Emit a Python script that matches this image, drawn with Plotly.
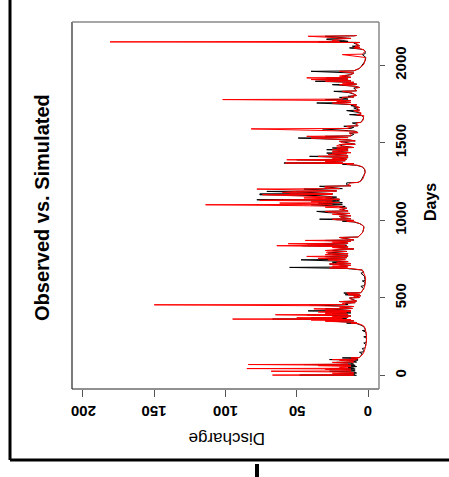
import plotly.graph_objects as go

# Observed discharge (day, value)
observed = [
    (1,8),(3,48),(5,12),(10,9),(14,20),(16,8),(22,10),(28,27),(30,9),(36,12),(40,18),(42,9),(45,27),(47,10),
    (52,14),(58,8),(64,20),(66,9),(71,45),(73,10),(80,12),(85,22),(87,8),(92,10),(98,15),(100,7),(103,27),
    (105,7),(110,9),(114,18),(116,6),(125,5),(140,4),(150,6),(152,3.5),(160,3),(175,4),(177,2.5),(180,2),
    (200,1.5),(210,3),(212,1.3),(220,1.2),(240,1.0),(250,3),(252,1.1),(260,1.2),(280,1.5),(290,4),(292,1.8),
    (300,2),(315,3),(325,5),(335,8),
    (338,15),(342,8),(350,25),(353,10),(358,30),(361,12),(364,67),(366,15),(372,40),(375,14),(380,20),(384,12),
    (392,43),(394,14),(400,25),(404,12),(410,30),(413,12),(417,42),(419,12),(425,20),(430,30),(432,11),(440,18),
    (445,10),(450,28),(456,41),(458,14),(465,16),(470,9),(477,20),(480,8),(490,10),(500,13),(503,6),(510,8),
    (515,5),(521,16),(523,6),(532,17),(534,5),(545,4),(560,3),(575,5),(577,2.6),(580,2.5),(600,2),(610,4),
    (612,2),(620,2),(640,2.5),(660,5),(665,3),(680,4),
    (690,15),(697,55),(700,15),(705,20),(710,12),(719,27),(722,12),(730,25),(735,14),(746,47),(749,16),(755,30),
    (760,15),(768,30),(771,14),(780,25),(785,14),(790,28),(796,20),(800,15),(806,25),(813,20),(816,10),(825,22),
    (830,14),(837,46),(840,15),(850,43),(853,14),(860,20),(865,12),(871,30),(874,10),(880,14),(890,20),(893,7),
    (900,6),(910,5),(920,4),(930,3.5),(940,3),(950,3),(960,3),(970,4),(980,6),(990,10),
    (995,18),(1000,10),(1004,20),(1008,34),(1011,12),(1018,18),(1026,20),(1030,12),(1040,22),(1045,13),(1050,28),
    (1058,36),(1061,14),(1070,18),(1079,15),(1085,20),(1090,16),(1095,30),(1101,40),(1104,18),(1112,35),(1115,18),
    (1120,30),(1125,20),(1129,22),(1133,78),(1136,20),(1145,30),(1150,22),(1160,35),(1166,76),(1168,25),(1170,76),
    (1173,25),(1180,40),(1187,71),(1190,22),(1195,30),(1202,45),(1205,18),(1212,25),(1220,34),(1223,12),(1230,15),
    (1242,15),(1245,7),(1255,5),(1270,4),(1290,3),(1310,2),(1330,2.5),(1345,4),(1355,8),
    (1362,18),(1366,10),(1370,59),(1373,18),(1380,28),(1385,16),(1391,50),(1394,15),(1400,20),(1405,14),(1413,41),
    (1416,14),(1425,24),(1430,15),(1434,29),(1437,12),(1445,22),(1450,14),(1456,29),(1460,14),(1467,25),(1470,10),
    (1480,18),(1488,20),(1491,9),(1500,15),(1510,20),(1513,9),(1520,14),(1531,49),(1534,14),(1542,30),(1545,12),
    (1555,10),(1563,13),(1566,7),(1575,9),(1590,32),(1593,12),(1600,10),(1607,17),(1610,7),(1620,8),(1628,11),
    (1632,5),(1645,4),(1660,3),(1675,4),
    (1682,13),(1685,5),(1695,6),(1708,15),(1711,6),(1718,8),(1725,10),(1728,6),(1740,12),(1745,8),(1757,36),
    (1760,12),(1768,20),(1772,12),(1779,30),(1782,14),(1793,20),(1796,10),(1800,14),(1805,8),(1815,10),(1825,14),
    (1832,24),(1835,8),(1845,9),(1854,10),(1857,6),(1865,9),(1875,25),(1878,8),(1885,15),(1890,10),(1897,37),
    (1900,12),(1908,35),(1911,14),(1919,29),(1922,12),(1930,18),(1940,12),(1950,10),(1961,40),(1964,10),(1972,8),
    (1980,6),(1990,5),
    (2000,4),(2015,3),(2030,2),(2050,1.5),(2069,4),(2075,2),(2090,2),(2100,3),
    (2105,6),(2112,13),(2115,6),(2123,11),(2126,6),(2135,8),(2144,10),(2147,6),(2151,35),(2154,14),(2160,18),
    (2166,29),(2170,29),(2173,12),(2180,20),(2187,30),(2190,10),(2192,8),
]

# Simulated discharge (day, value)
simulated = [
    (1,10),(3,67),(5,14),(10,10),(15,25),(17,10),(22,12),(28,68),(30,12),(36,15),(40,30),(42,12),(45,85),(47,14),
    (52,20),(58,12),(64,35),(66,12),(71,84),(73,14),(80,15),(85,25),(87,10),(92,12),(98,20),(100,9),(103,25),
    (105,8),(110,7),(114,12),(116,6),(125,5),(140,3.5),(160,2.5),(180,1.8),(200,1.4),(220,1.1),(240,1.0),
    (260,1.1),(280,1.4),(300,1.8),(315,2.5),(325,4),(335,7),
    (338,12),(342,8),(350,30),(353,10),(358,40),(361,12),(364,95),(366,18),(372,50),(375,14),(380,25),(384,12),
    (392,65),(394,14),(400,30),(404,15),(410,35),(413,12),(417,30),(419,12),(425,25),(430,38),(432,11),(440,20),
    (445,10),(450,35),(456,150),(458,16),(465,18),(470,9),(477,20),(480,8),(490,12),(500,13),(503,6),(510,10),
    (515,5),(521,14),(523,6),(532,15),(534,5),(545,4),(560,3),(580,2.2),(600,1.8),(620,1.7),(640,2),(660,3),
    (680,4),
    (690,12),(693,27),(697,20),(700,14),(705,25),(710,12),(719,27),(722,12),(730,22),(735,14),(746,28),(749,16),
    (755,35),(760,15),(768,43),(771,14),(780,30),(785,14),(790,29),(796,29),(800,15),(806,30),(813,20),(816,10),
    (825,25),(830,14),(837,64),(840,16),(850,56),(853,14),(860,25),(865,12),(871,44),(874,10),(880,15),(890,20),
    (893,7),(900,6),(910,5),(920,4),(930,3.5),(940,3),(950,3),(960,3),(970,4),(980,6),(990,9),
    (995,15),(1000,10),(1004,22),(1008,25),(1011,12),(1018,18),(1026,20),(1030,12),(1040,25),(1045,13),(1050,22),
    (1058,30),(1061,14),(1070,20),(1079,15),(1085,30),(1090,18),(1095,45),(1101,114),(1104,25),(1112,62),(1115,20),
    (1120,40),(1125,25),(1129,76),(1133,60),(1136,20),(1145,45),(1150,25),(1160,50),(1166,74),(1168,25),(1170,55),
    (1173,25),(1180,60),(1187,50),(1190,22),(1195,40),(1202,78),(1205,20),(1212,30),(1220,30),(1223,12),(1230,14),
    (1242,12),(1245,7),(1255,5),(1270,3.5),(1290,2.5),(1310,2),(1330,2.3),(1345,4),(1355,7),
    (1362,15),(1366,10),(1370,58),(1373,18),(1380,30),(1385,16),(1391,57),(1394,15),(1400,25),(1405,14),(1413,35),
    (1416,14),(1425,28),(1430,15),(1434,25),(1437,12),(1445,25),(1450,14),(1456,25),(1460,14),(1467,22),(1470,10),
    (1480,22),(1488,20),(1491,9),(1500,18),(1510,20),(1513,9),(1520,15),(1531,40),(1534,14),(1542,43),(1545,12),
    (1555,12),(1563,13),(1566,7),(1575,10),(1590,82),(1593,14),(1600,12),(1607,15),(1610,7),(1620,8),(1628,8),
    (1632,5),(1645,3.5),(1660,3),(1675,3),
    (1682,8),(1685,5),(1695,5),(1708,10),(1711,6),(1718,7),(1725,8),(1728,6),(1740,10),(1745,8),(1757,25),
    (1760,12),(1768,22),(1772,12),(1779,102),(1782,18),(1793,18),(1796,10),(1800,12),(1805,8),(1815,10),(1825,12),
    (1832,18),(1835,8),(1845,9),(1854,8),(1857,6),(1865,10),(1875,20),(1878,8),(1885,18),(1890,10),(1897,30),
    (1900,12),(1908,40),(1911,14),(1919,43),(1922,12),(1930,20),(1940,12),(1950,10),(1961,20),(1964,10),(1972,8),
    (1980,6),(1990,5),
    (2000,3.5),(2015,2.5),(2030,2),(2050,1.8),(2069,18),(2072,4),(2090,2),(2100,3),
    (2105,5),(2112,10),(2115,6),(2123,9),(2126,6),(2135,8),(2144,9),(2147,6),(2151,181),(2154,20),(2160,25),
    (2166,22),(2170,20),(2173,12),(2180,30),(2187,42),(2190,10),(2192,8),
]

obs_days = [d for d, v in observed]
obs_vals = [v for d, v in observed]
sim_days = [d for d, v in simulated]
sim_vals = [v for d, v in simulated]

discharge_ticks = [0, 50, 100, 150, 200]
day_ticks = [0, 500, 1000, 1500, 2000]

FONT = "Liberation Sans, Arial, sans-serif"

fig = go.Figure()
fig.add_trace(go.Scatter(x=obs_vals, y=obs_days, mode="lines",
                         line=dict(color="black", width=1), showlegend=False))
fig.add_trace(go.Scatter(x=sim_vals, y=sim_days, mode="lines",
                         line=dict(color="red", width=1), showlegend=False))

# plot area in pixels: x 72..379, y 22..389
L, R, T, B = 72, 379, 22, 389
W, H = 449, 477
def px(x):
    return (x - L) / (R - L)
def py(y):
    return (B - y) / (B - T)

annotations = [
    dict(text="Observed vs. Simulated", xref="paper", yref="paper", x=px(42), y=py(208),
         showarrow=False, textangle=-90, font=dict(size=20, family=FONT, weight="bold"),
         xanchor="center", yanchor="middle"),
    dict(text="Days", xref="paper", yref="paper", x=px(430), y=py(202),
         showarrow=False, textangle=-90, font=dict(size=16, family=FONT, weight="bold"),
         xanchor="center", yanchor="middle"),
    dict(text="Discharge", xref="paper", yref="paper", x=px(227), y=py(439),
         showarrow=False, textangle=180, font=dict(size=17, family=FONT),
         xanchor="center", yanchor="middle"),
]
# upside-down discharge tick labels
for t in discharge_ticks:
    annotations.append(dict(text=str(t), xref="x", yref="paper", x=t, y=py(412),
                            showarrow=False, textangle=180,
                            font=dict(size=15, family=FONT, weight="bold"),
                            xanchor="center", yanchor="middle"))

fig.update_layout(
    width=W, height=H,
    margin=dict(l=L, r=W - R, t=T, b=H - B),
    paper_bgcolor="white", plot_bgcolor="white",
    font=dict(family=FONT, color="black"),
    xaxis=dict(range=[207.7, -7.7], tickvals=discharge_ticks, showticklabels=False,
               ticks="outside", ticklen=7, tickcolor="#555", showgrid=False,
               zeroline=False, showline=False),
    yaxis=dict(range=[-86.7, 2279], tickvals=day_ticks, tickangle=-90, side="right",
               ticks="outside", ticklen=5, tickcolor="#555", showgrid=False,
               zeroline=False, showline=False, ticklabelstandoff=3,
               tickfont=dict(size=15, family=FONT, weight="bold")),
    shapes=[
        # plot box
        dict(type="line", xref="paper", yref="paper", x0=0, x1=0, y0=0, y1=1, line=dict(color="#222", width=1.2)),
        dict(type="line", xref="paper", yref="paper", x0=0, x1=1, y0=0, y1=0, line=dict(color="#222", width=1.2)),
        dict(type="line", xref="paper", yref="paper", x0=0, x1=1, y0=1, y1=1, line=dict(color="#888", width=1.5)),
        dict(type="line", xref="paper", yref="paper", x0=1, x1=1, y0=0, y1=1, line=dict(color="#888", width=1.5)),
        # outer frame
        dict(type="line", xref="paper", yref="paper", x0=px(10), x1=px(10), y0=py(0), y1=py(460),
             line=dict(color="black", width=3)),
        dict(type="line", xref="paper", yref="paper", x0=px(10), x1=px(449), y0=py(460), y1=py(460),
             line=dict(color="black", width=3)),
        dict(type="line", xref="paper", yref="paper", x0=px(257), x1=px(257), y0=py(464), y1=py(477),
             line=dict(color="black", width=4)),
    ],
    annotations=annotations,
)

fig.write_html("out.html", config={"displayModeBar": False},
               post_script="document.body.style.margin='0';document.body.style.overflow='hidden';")
